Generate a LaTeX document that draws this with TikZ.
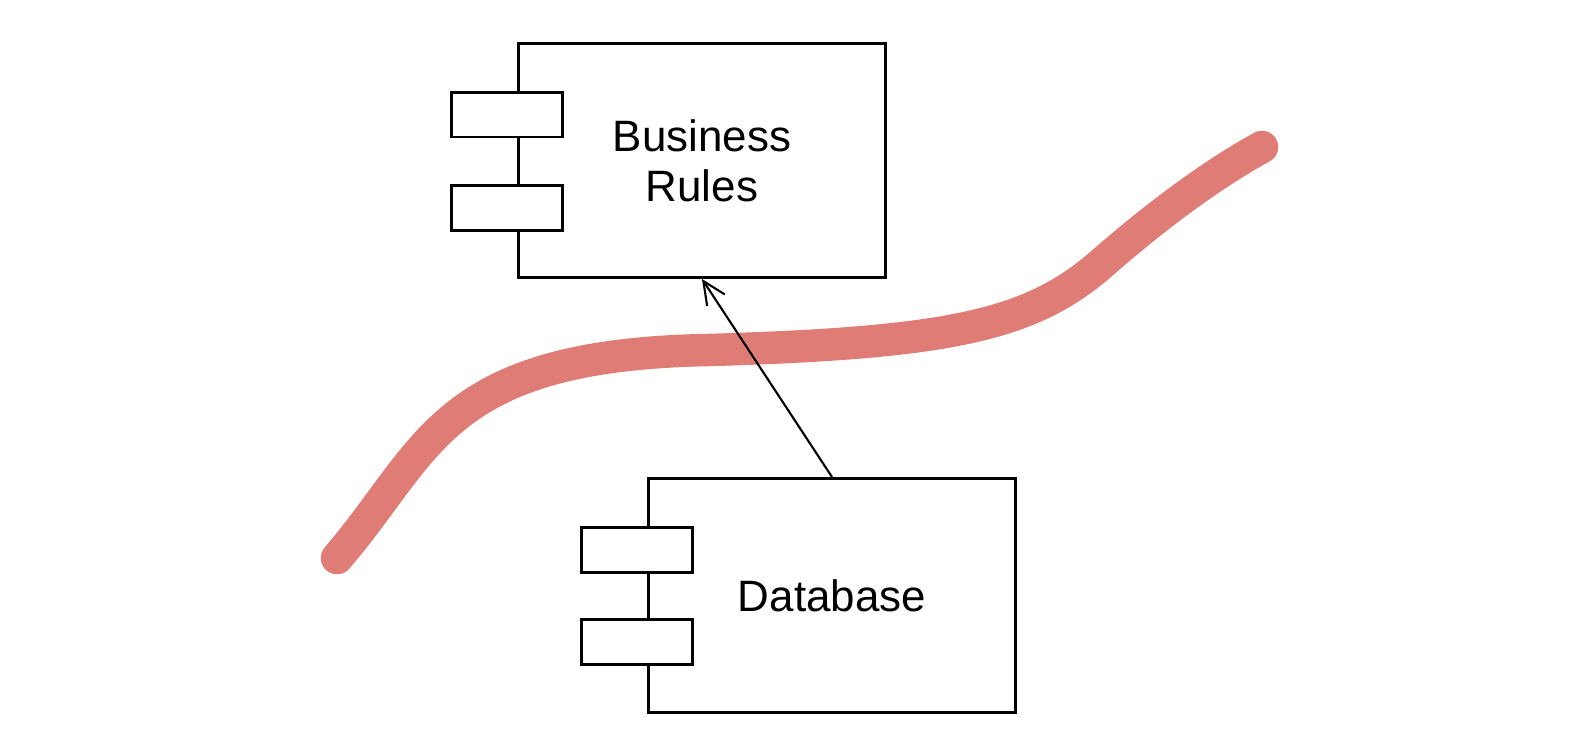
\documentclass[tikz,border=0pt]{standalone}
\usepackage{fontspec}
\setmainfont{Liberation Sans}
\usetikzlibrary{arrows.meta}

\definecolor{wallred}{RGB}{224,124,118}

\tikzset{
    comp/.style={draw, line width=1.7pt, fill=white, minimum width=7.36cm, minimum height=4.68cm, align=center, font=\fontsize{25}{28.5}\selectfont},
    port/.style={draw, line width=1.7pt, fill=white, minimum width=2.22cm, minimum height=0.9cm},
}

\begin{document}
\begin{tikzpicture}[x=0.02cm, y=-0.02cm]
        \useasboundingbox (0,0) rectangle (1586,752);
        \draw[line width=18.5pt, color=wallred, line cap=round] (337,558) .. controls (430,450) and (440,355) .. (708,350) .. controls (950,343) and (1030,325) .. (1100,265) .. controls (1165,208) and (1220,170) .. (1262,147); %grenze

        % --------------------------------------------------

        \node[comp] (rules) at (702,160.5) {Business\\Rules};
        \node[port] (rulesPortA) at (507,114.5) {}; %port oben
        \node[port] (rulesPortB) at (507,208) {}; %port unten

        % --------------------------------------------------

        \node[comp] (db) at (832,595.5) {Database};
        \node[port] (dbPortA) at (637,549.5) {}; %port oben
        \node[port] (dbPortB) at (637,642) {}; %port unten

        % --------------------------------------------------

        \draw[-{Straight Barb[length=13pt,width=12pt]}, line width=1.2pt] (db.north) -- (rules.south);
\end{tikzpicture}
\end{document}
